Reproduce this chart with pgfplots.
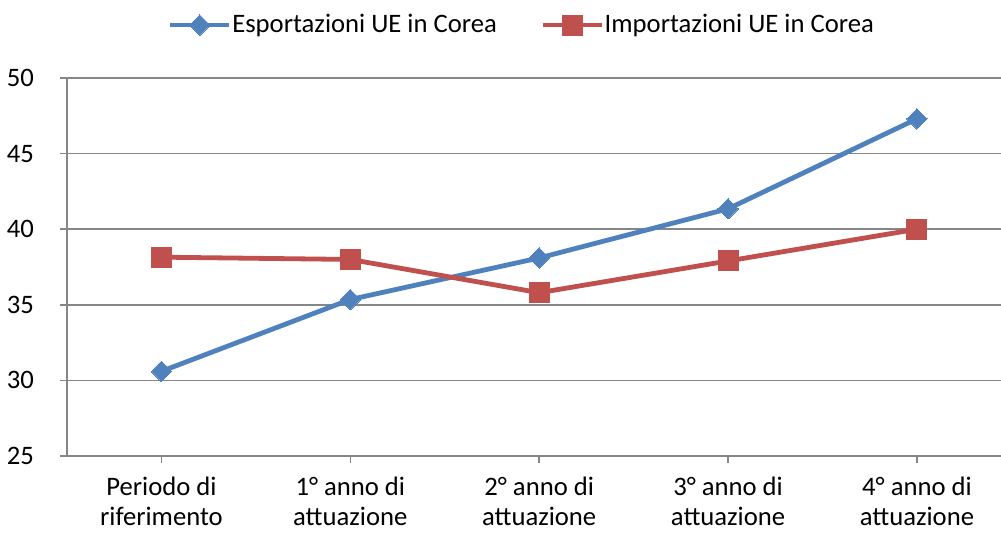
\documentclass[border=0pt]{standalone}
\usepackage{pgfplots}
\pgfplotsset{compat=1.18}
\usepackage{fontspec}
\setmainfont{Carlito}
\definecolor{eblue}{RGB}{79,129,189}
\definecolor{ered}{RGB}{192,80,77}
\definecolor{gridc}{RGB}{134,134,134}
\begin{document}
\fontsize{20}{23}\selectfont
\begin{tikzpicture}
\begin{axis}[name=ax,
  scale only axis, width=700.5pt, height=283.5pt,
  xmin=-0.5, xmax=4.445, ymin=25, ymax=50,
  ytick={25,30,...,50},
  xtick={0,1,2,3,4},
  xticklabels={{Periodo di\\riferimento},{1° anno di\\attuazione},{2° anno di\\attuazione},{3° anno di\\attuazione},{4° anno di\\attuazione}},
  xticklabel style={align=center, font=\fontsize{20}{22.5}\selectfont, yshift=-4pt},
  yticklabel style={font=\fontsize{20}{23}\selectfont, xshift=-13pt},
  /pgf/number format/assume math mode=true,
  axis x line*=bottom, axis y line*=left,
  axis line style={gridc, line width=1.2pt, -},
  tick align=outside, major tick length=5pt,
  tick style={gridc, line width=1.2pt},
  ymajorgrids, grid style={gridc, line width=1.2pt},
  legend columns=2,
  legend style={draw=none, fill=none, at={(0.4865,1.14)}, anchor=center, font=\fontsize{20}{23}\selectfont, inner sep=0pt,
    nodes={inner sep=0.6pt},
    /tikz/every even column/.append style={column sep=32pt}},
  legend cell align=left,
  legend image code/.code={\draw[#1, mark repeat=2, mark phase=2] plot coordinates {(0pt,0pt) (22pt,0pt) (44pt,0pt)};},
  clip=false,
]
\addplot[eblue, line width=3.6pt, mark=square*, mark size=5.4pt, mark options={rotate=45, solid, line width=0pt}]
  coordinates {(0,30.6) (1,35.35) (2,38.1) (3,41.35) (4,47.3)};
\addlegendentry{Esportazioni UE in Corea}
\addplot[ered, line width=3.6pt, mark=square*, mark size=7.5pt, mark options={solid, line width=0pt}]
  coordinates {(0,38.15) (1,38.0) (2,35.8) (3,37.9) (4,40.0)};
\addlegendentry{Importazioni UE in Corea}
\end{axis}
\pgfresetboundingbox
\path ([xshift=-50.25pt,yshift=-57pt]ax.south west) rectangle ([yshift=58.5pt]ax.north east);
\end{tikzpicture}
\end{document}
